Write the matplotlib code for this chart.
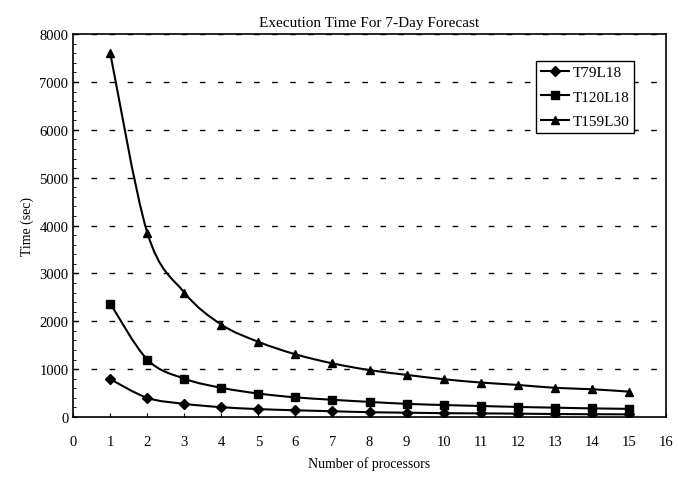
import matplotlib
matplotlib.use("Agg")
import matplotlib.pyplot as plt
from matplotlib.ticker import MultipleLocator
from matplotlib.path import Path
from matplotlib.patches import PathPatch

plt.rcParams['font.family'] = ['Liberation Serif', 'DejaVu Serif']

processors = list(range(1, 16))
t79l18 = [790, 400, 275, 205, 165, 140, 120, 100, 90, 80, 75, 70, 62, 58, 55]
t120l18 = [2370, 1200, 800, 610, 490, 410, 360, 315, 275, 250, 230, 210, 195, 180, 170]
t159l30 = [7600, 3850, 2600, 1930, 1570, 1310, 1120, 980, 880, 790, 720, 670, 610, 580, 530]
series_names = ["T79L18", "T120L18", "T159L30"]
markers = ["D", "s", "^"]


def smooth_path(xs, ys, k=1.0 / 6):
    # Catmull-Rom style cubic Bezier through the data points (Excel "smoothed line" look)
    n = len(xs)
    verts = [(xs[0], ys[0])]
    codes = [Path.MOVETO]
    for i in range(n - 1):
        x0, y0 = (xs[i - 1], ys[i - 1]) if i > 0 else (xs[i], ys[i])
        x1, y1 = xs[i], ys[i]
        x2, y2 = xs[i + 1], ys[i + 1]
        x3, y3 = (xs[i + 2], ys[i + 2]) if i + 2 < n else (x2, y2)
        c1 = (x1 + (x2 - x0) * k, y1 + (y2 - y0) * k)
        c2 = (x2 - (x3 - x1) * k, y2 - (y3 - y1) * k)
        verts += [c1, c2, (x2, y2)]
        codes += [Path.CURVE4, Path.CURVE4, Path.CURVE4]
    return Path(verts, codes)


fig = plt.figure(figsize=(6.78, 4.81), dpi=100)
ax = fig.add_axes([0.108, 0.131, 0.874, 0.796])

for vals, name, m in zip([t79l18, t120l18, t159l30], series_names, markers):
    ms = 5 if m == "D" else 6
    ax.add_patch(PathPatch(smooth_path(processors, vals), facecolor="none",
                           edgecolor="black", lw=1.5))
    ax.plot(processors, vals, color="black", lw=1.5, linestyle="none",
            marker=m, ms=ms, label=name)

ax.set_xlim(0, 16)
ax.set_ylim(0, 8000)
ax.xaxis.set_major_locator(MultipleLocator(1))
ax.yaxis.set_major_locator(MultipleLocator(1000))
ax.yaxis.set_minor_locator(MultipleLocator(200))
ax.tick_params(axis="x", direction="in", length=3, pad=13, labelsize=10.5)
ax.tick_params(axis="y", which="both", direction="in", length=3, labelsize=10.5)
ax.tick_params(axis="y", which="minor", length=2)
ax.grid(axis="y", which="major", color="black", linestyle=(0, (4, 9)), lw=1)
for s in ax.spines.values():
    s.set_linewidth(1.2)

ax.set_title("Execution Time For 7-Day Forecast", fontsize=11, pad=6)
ax.set_xlabel("Number of processors", fontsize=10, labelpad=6)
ax.set_ylabel("Time (sec)", fontsize=10)

# legend handles with line + marker
from matplotlib.lines import Line2D
handles = [Line2D([], [], color="black", lw=1.5, marker=m, ms=(5 if m == "D" else 6))
           for m in markers]
leg = ax.legend(handles, series_names, loc="upper right", bbox_to_anchor=(0.96, 0.95),
                fontsize=11, fancybox=False, edgecolor="black", framealpha=1,
                handlelength=1.8, handletextpad=0.3, borderpad=0.3, labelspacing=0.7)
leg.get_frame().set_linewidth(1.0)

fig.savefig("out.png", dpi=100)
